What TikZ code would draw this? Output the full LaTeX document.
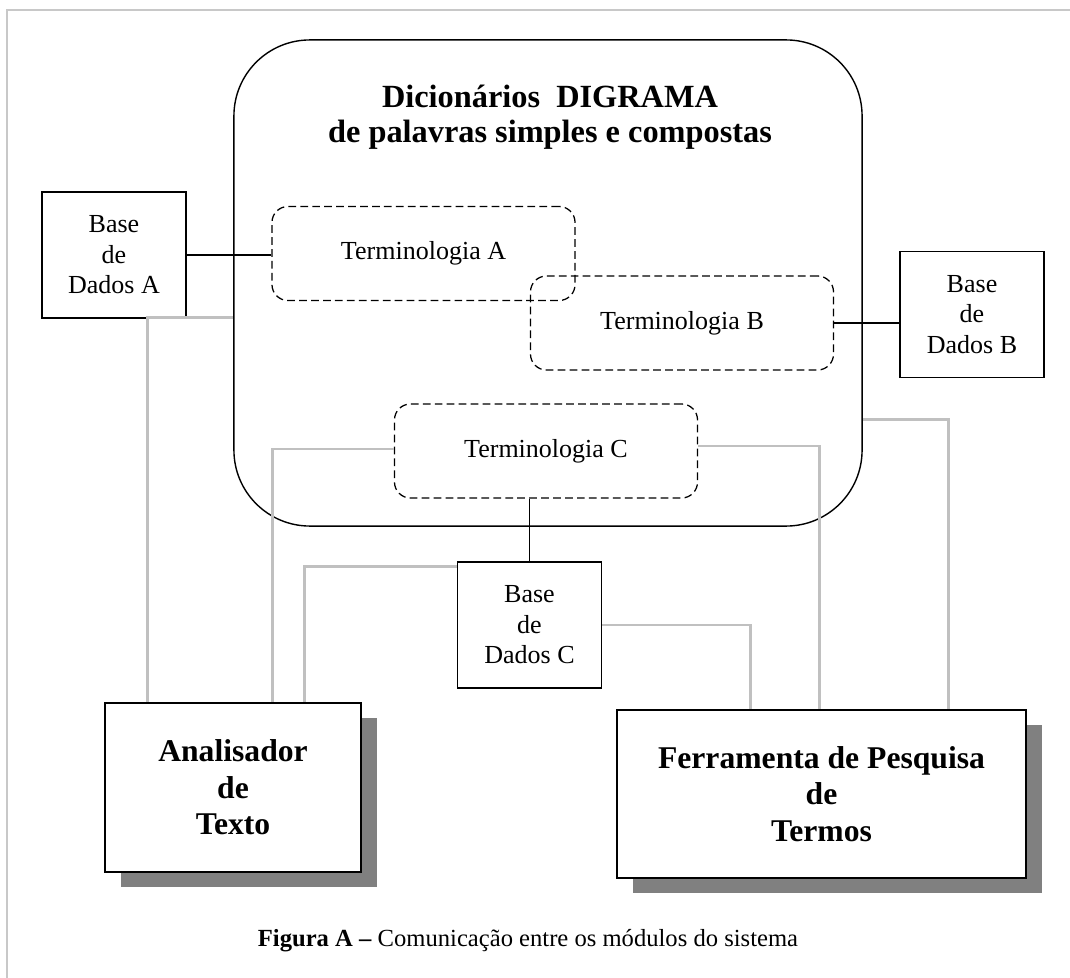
\documentclass[tikz,border=0pt]{standalone}
\usepackage{fontspec}
\setmainfont{Liberation Serif}
\usetikzlibrary{positioning,calc,shadows}

\tikzset{
  dictbox/.style={draw, line width=1pt, rounded corners=1.9cm,
    minimum width=15.7cm, minimum height=12.15cm},
  termbox/.style={draw, line width=0.9pt, dash pattern=on 5.5pt off 3pt,
    rounded corners=0.4cm, minimum width=7.575cm, minimum height=2.35cm,
    font=\fontsize{18.5}{21.7}\selectfont},
  basebox/.style={draw, line width=1pt, align=center, inner sep=0pt,
    minimum width=3.6cm, minimum height=3.15cm,
    font=\fontsize{18.5}{21.7}\selectfont},
  modbox/.style={draw, line width=1.1pt, fill=white, align=center,
    font=\fontsize{22.5}{26}\selectfont\bfseries,
    drop shadow={shadow xshift=0.4cm, shadow yshift=-0.38cm, fill=shadowGray, opacity=1}},
  blacklink/.style={line width=0.9pt, draw=black},
  graylink/.style={line width=2.1pt, draw=linkGray},
}

\begin{document}
\begin{tikzpicture}[x=0.025cm, y=-0.025cm]

    % Define colors
    \definecolor{frameGray}{RGB}{200, 200, 200}
    \definecolor{linkGray}{RGB}{192, 192, 192}
    \definecolor{shadowGray}{RGB}{128, 128, 128}

    \useasboundingbox (0,0) rectangle (1070,978);

    % Frame (top and left edges only)
    \draw[frameGray, line width=1.4pt] (7,978) -- (7,10) -- (1070,10);

    % === DICTIONARIES ===
    \node[dictbox] (dict) at (548,283) {};
    \node[font=\fontsize{23}{25}\selectfont\bfseries, align=center] (dicttitle) at (550,117)
        {Dicionários~~DIGRAMA\\de palavras simples e compostas};

    % Terminologies
    \node[termbox] (termA) at (423.5,253.5) {Terminologia A};
    \node[termbox] (termB) at (682,323) {Terminologia B};
    \node[termbox] (termC) at (546,451) {Terminologia C};

    % === DATABASES ===
    \node[basebox] (baseA) at (114,255) {Base\\de\\Dados A};
    \node[basebox] (baseB) at (972,314.5) {Base\\de\\Dados B};
    \node[basebox] (baseC) at (529.5,625) {Base\\de\\Dados C};

    % Database links
    \draw[blacklink] (baseA.east) -- (baseA.east -| termA.west);
    \draw[blacklink] (termB.east) -- (termB.east -| baseB.west);
    \draw[blacklink] (baseC.north) -- (baseC.north |- termC.south);

    % === MODULES ===
    \node[modbox, minimum width=6.4cm, minimum height=4.225cm] (ana) at (233,787.5)
        {Analisador\\de\\Texto};
    \node[modbox, minimum width=10.225cm, minimum height=4.2cm] (ferr) at (821.5,794)
        {Ferramenta de Pesquisa\\de\\Termos};

    % Links to Analisador
    \draw[graylink] ($(dict.north west)+(0,278)$) -| ($(ana.north west)+(43,0)$);
    \draw[graylink] ($(termC.west)+(0,-2)$) -| ($(ana.north west)+(168,0)$);
    \draw[graylink] ($(baseC.north west)+(0,5)$) -| ($(ana.north west)+(200,0)$);

    % Links to Ferramenta
    \draw[graylink] (baseC.east) -| ($(ferr.north west)+(134,0)$);
    \draw[graylink] ($(termC.east)+(0,-5)$) -| ($(ferr.north west)+(203,0)$);
    \draw[graylink] ($(dict.north east)+(0,380)$) -| ($(ferr.north west)+(332,0)$);

    % Caption
    \node[font=\fontsize{17.5}{21}\selectfont] (caption) at (528,941)
        {\textbf{Figura A –} Comunicação entre os módulos do sistema};

\end{tikzpicture}
\end{document}
